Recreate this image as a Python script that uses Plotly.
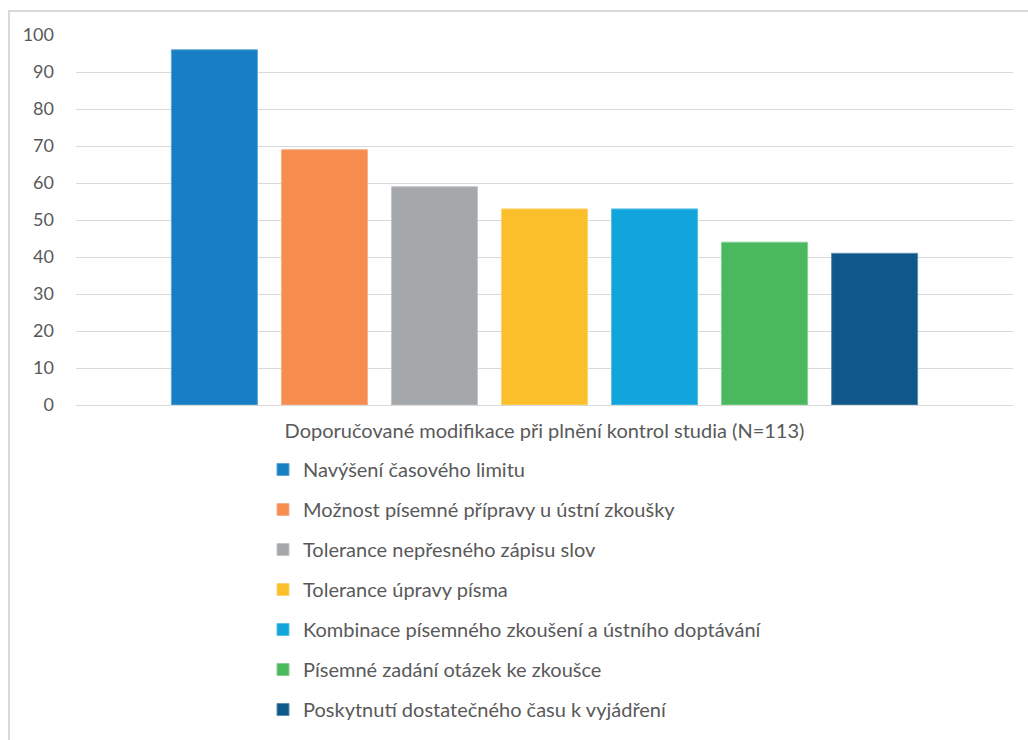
import plotly.graph_objects as go

# Survey results: recommended modifications when completing study checks
category = ["Doporučované modifikace při plnění kontrol studia (N=113)"]
series_names = [
    "Navýšení časového limitu",
    "Možnost písemné přípravy u ústní zkoušky",
    "Tolerance nepřesného zápisu slov",
    "Tolerance úpravy písma",
    "Kombinace písemného zkoušení a ústního doptávání",
    "Písemné zadání otázek ke zkoušce",
    "Poskytnutí dostatečného času k vyjádření",
]
values = [96, 69, 59, 53, 53, 44, 41]
colors = ["#187fc4", "#f68c4e", "#a5a8ab", "#fbbf2c", "#12a5dc", "#4ab95d", "#0f5889"]
edge_colors = ["#5aa6d9", "#f9b088", "#c3c5c7", "#fcd374", "#5cc1e7", "#85d092", "#5e8fb0"]
y_ticks = [0, 10, 20, 30, 40, 50, 60, 70, 80, 90, 100]

W, H = 1028, 740
ML, MR, MT, MB = 76, 15, 35, 335
FONT = "Lato, Carlito, Calibri, sans-serif"
TEXT = "#595959"

fig = go.Figure()
for i, (name, val) in enumerate(zip(series_names, values)):
    fig.add_trace(go.Bar(
        x=category, y=[val], name=name,
        legendgroup=f"g{i}",
        marker=dict(color=colors[i], line=dict(color=edge_colors[i], width=1)),
        hoverinfo="name+y",
    ))

pw, ph = W - ML - MR, H - MT - MB


def px_to_paper_x(px):
    return (px - ML) / pw


def px_to_paper_y(py):
    return (H - MB - py) / ph


# outer chart frame (left and top edges visible)
fig.add_shape(type="rect", xref="paper", yref="paper",
              x0=px_to_paper_x(9), x1=px_to_paper_x(1060),
              y0=px_to_paper_y(780), y1=px_to_paper_y(11),
              line=dict(color="#d9d9d9", width=2), fillcolor="rgba(0,0,0,0)",
              layer="below")

fig.update_layout(
    width=W, height=H,
    margin=dict(l=ML, r=MR, t=MT, b=MB, pad=0, autoexpand=False),
    paper_bgcolor="white", plot_bgcolor="white",
    barmode="group", bargap=0.178, bargroupgap=0.218,
    font=dict(family=FONT, size=20, color=TEXT),
    showlegend=True,
    legend=dict(
        xref="container", yref="container",
        x=263 / W, y=1 - 450 / H, xanchor="left", yanchor="top",
        traceorder="grouped", tracegroupgap=11,
        font=dict(family=FONT, size=20, color=TEXT),
        bgcolor="rgba(0,0,0,0)", borderwidth=0,
    ),
    xaxis=dict(
        showgrid=False, showline=False, zeroline=False,
        ticks="", ticklabelstandoff=12,
        tickfont=dict(family=FONT, size=20, color=TEXT),
    ),
    yaxis=dict(
        range=[0, 100], tickvals=y_ticks,
        showgrid=True, gridcolor="#d9d9d9", gridwidth=1,
        zeroline=True, zerolinecolor="#d9d9d9", zerolinewidth=1,
        showline=False, ticks="", ticklabelstandoff=21,
        tickfont=dict(family=FONT, size=18, color=TEXT),
    ),
)

fig.write_html("out.html")
